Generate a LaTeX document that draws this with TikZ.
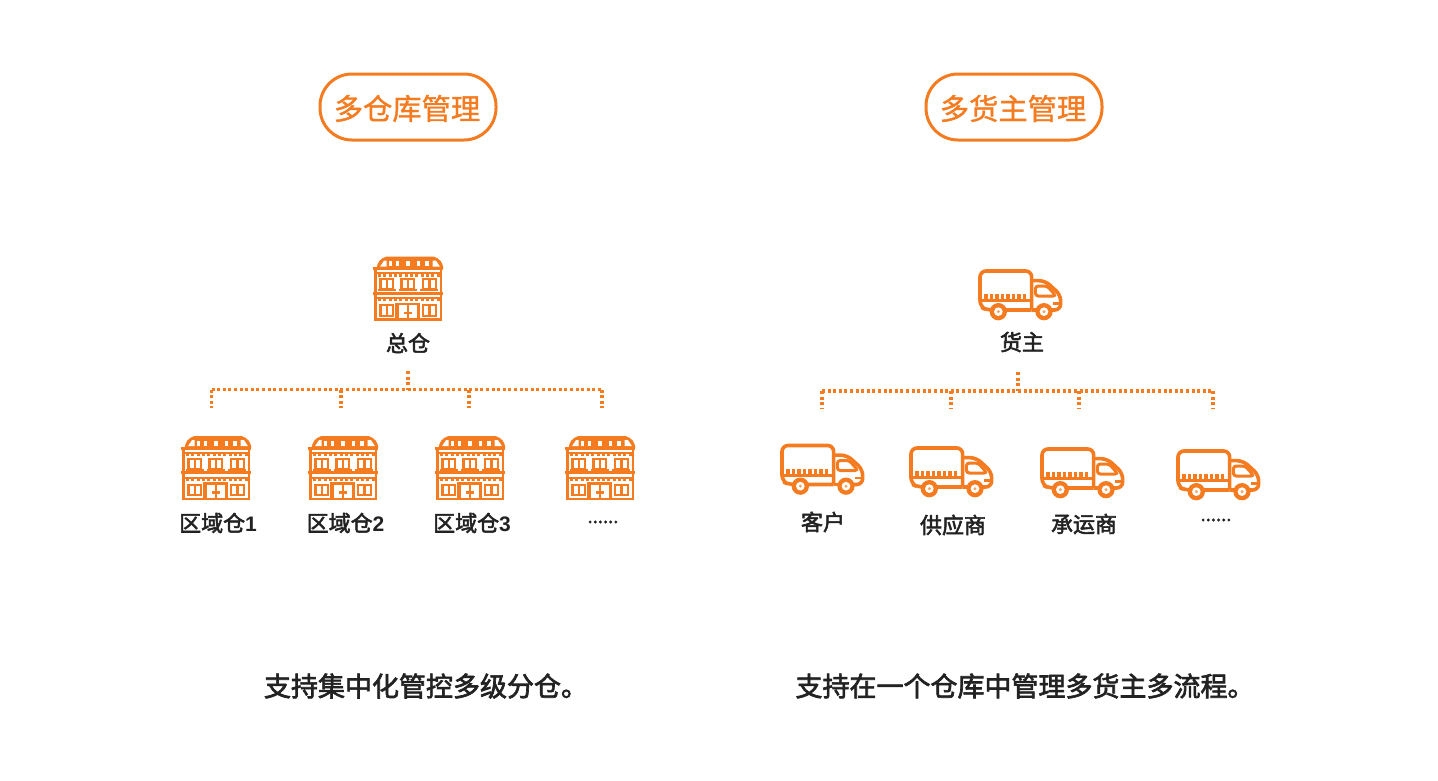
\documentclass[tikz,border=0pt]{standalone}
\usepackage{fontspec}
\newfontfamily\cjk{Noto Sans CJK SC}
\newfontfamily\cjkb[FakeBold=2.4]{Noto Sans CJK SC}
\newfontfamily\cjkt[FakeBold=1.2]{Noto Sans CJK SC}
\newfontfamily\latb{Liberation Sans Bold}
\definecolor{org}{HTML}{F57B20}
\definecolor{ink}{HTML}{222222}
\tikzset{
  titlebox/.style={draw=org,line width=3pt,rounded corners=32pt,minimum width=176pt,minimum height=66pt,inner sep=0pt,text=org,font=\cjkt\fontsize{29.3}{32}\selectfont},
  lab/.style={text=ink,inner sep=0pt,font=\cjkb\fontsize{22}{24}\selectfont},
  moredots/.style={text=ink,inner sep=0pt,font=\cjkb\fontsize{18.5}{20}\selectfont},
  captext/.style={text=ink,inner sep=0pt,font=\cjkb\fontsize{27}{32}\selectfont},
  bus/.style={draw=org,line width=3.2pt,dash pattern=on 3pt off 2.6pt},
  ico/.style={draw=org,line width=2.6pt},
  warehouse/.pic={
    \begin{scope}[x=0.3333pt,y=-0.3333pt]
      \fill[org] (50,54) .. controls (52,38) and (60,26) .. (78,20) -- (222,20) .. controls (240,26) and (248,38) .. (250,54) -- cycle;
      \fill[white] (72,32) -- (60,50) -- (80,50) -- (80,32) -- cycle;
      \fill[white] (228,32) -- (240,50) -- (218,50) -- (218,32) -- cycle;
      \foreach \a/\b in {88/96,107/118,138/150,170/180,196/206}{\fill[white] (\a,33) rectangle (\b,49);}
      \draw[ico,line width=3pt] (38,56) -- (250,56);
      \draw[ico,line width=3pt] (38,130) -- (250,130);
      \draw[ico,line width=2.6pt] (47,56) -- (47,209) -- (243,209) -- (243,56);
      \fill[org] (50,67) rectangle (240,73);
      \foreach \i in {0,...,11}{\fill[org] ({54+\i*16},73) rectangle ({63+\i*16},80);}
      \fill[org] (50,141) rectangle (240,147);
      \foreach \i in {0,...,11}{\fill[org] ({54+\i*16},147) rectangle ({63+\i*16},154);}
      \foreach \x in {58,121,185}{
        \fill[org] (\x,84) rectangle ({\x+45},120);
        \fill[white] ({\x+7},91) rectangle ({\x+20},115);
        \fill[white] ({\x+27},91) rectangle ({\x+39},115);
        \fill[org] ({\x-4},117) rectangle ({\x+49},124);
      }
      \foreach \x in {58,185}{
        \fill[org] (\x,162) rectangle ({\x+45},200);
        \fill[white] ({\x+7},169) rectangle ({\x+20},194);
        \fill[white] ({\x+27},169) rectangle ({\x+39},194);
      }
      \fill[org] (106,158) rectangle (180,210);
      \fill[white] (116,166) rectangle (140,205);
      \fill[white] (146,166) rectangle (171,205);
      \fill[org] (132,185) rectangle (155,193);
      \fill[org] (140,180) rectangle (146,200);
    \end{scope}
  },
  truck/.pic={
    \begin{scope}[x=0.3333pt,y=-0.3333pt]
      \draw[ico,line width=3.6pt,rounded corners=6pt,fill=white] (185,150) -- (50,150) -- (30,140) -- (30,33) -- (185,33) -- (185,150);
      \fill[org] (30,118) rectangle (185,127);
      \foreach \i in {0,...,7}{\fill[org] ({42+\i*16.6},102) rectangle ({53+\i*16.6},118);}
      \draw[ico,line width=3.6pt,rounded corners=6pt] (185,62) -- (225,62) -- (272,105) -- (272,150) -- (240,150);
      \draw[ico,line width=3.6pt] (185,150) -- (205,150);
      \draw[ico,line width=3pt,rounded corners=3pt] (196,78) -- (232,78) -- (258,108) -- (196,108) -- cycle;
      \draw[ico,line width=2.6pt] (250,130) -- (272,130);
      \foreach \cx in {85,222}{
        \fill[org] (\cx,155) circle (26);
        \fill[white] (\cx,155) circle (13);
        \fill[org!70] (\cx,155) circle (5);
      }
    \end{scope}
  }
}
\begin{document}
\begin{tikzpicture}[x=1pt,y=-1pt]
\useasboundingbox (0,0) rectangle (1438,780);
\node[draw=org,line width=3pt,rounded corners=32pt,minimum width=176pt,minimum height=66pt] (t1) at (408,107) {};
\node[draw=org,line width=3pt,rounded corners=32pt,minimum width=176pt,minimum height=66pt] (t2) at (1014,107) {};
\node[text=org,inner sep=0pt,font=\cjkt\fontsize{29.3}{32}\selectfont] (tt1) at (407,108.5) {多仓库管理};
\node[text=org,inner sep=0pt,font=\cjkt\fontsize{29.3}{32}\selectfont] (tt2) at (1013,108.5) {多货主管理};

% warehouses
\pic at (360,250) {warehouse};
\pic at (168,429.5) {warehouse};
\pic at (295,429.5) {warehouse};
\pic at (422,429.5) {warehouse};
\pic at (552,429.5) {warehouse};
% trucks
\pic at (970,260) {truck};
\pic at (772,434.5) {truck};
\pic at (901,437) {truck};
\pic at (1032,438) {truck};
\pic at (1168,440) {truck};

% labels
\node[lab] (l0) at (408,343) {总仓};
\node[lab] (l1) at (218,523) {区域仓{\latb\fontsize{21}{24}\selectfont 1}};
\node[lab] (l2) at (345.5,523) {区域仓{\latb\fontsize{21}{24}\selectfont 2}};
\node[lab] (l3) at (472,523) {区域仓{\latb\fontsize{21}{24}\selectfont 3}};
\node[moredots] (l4) at (603,522) {......};
\node[lab] (r0) at (1022,342) {货主};
\node[lab] (r1) at (823,522) {客户};
\node[lab] (r2) at (953,525) {供应商};
\node[lab] (r3) at (1084,524) {承运商};
\node[moredots] (r4) at (1216,520) {......};
\node[captext] (c1) at (426,686) {支持集中化管控多级分仓。};
\node[captext] (c2) at (1025,686) {支持在一个仓库中管理多货主多流程。};

% left tree
\coordinate (a0) at (408,371);
\coordinate (aj) at (408,389.5);
\foreach \n/\x in {a1/211.5,a2/341,a3/469,a4/602}{
  \coordinate (\n) at (\x,408);
  \coordinate (\n j) at (\x,389.5);
}
\draw[bus] (a0) -- (aj);
\draw[bus] (a1j) -- (a4j);
\foreach \n in {a1,a2,a3,a4}{\draw[bus] (\n j) -- (\n);}
% right tree
\coordinate (b0) at (1018,372);
\coordinate (bj) at (1018,391);
\foreach \n/\x in {b1/822,b2/951,b3/1079,b4/1213}{
  \coordinate (\n) at (\x,409);
  \coordinate (\n j) at (\x,391);
}
\draw[bus] (b0) -- (bj);
\draw[bus] (b1j) -- (b4j);
\foreach \n in {b1,b2,b3,b4}{\draw[bus] (\n j) -- (\n);}
\end{tikzpicture}
\end{document}
